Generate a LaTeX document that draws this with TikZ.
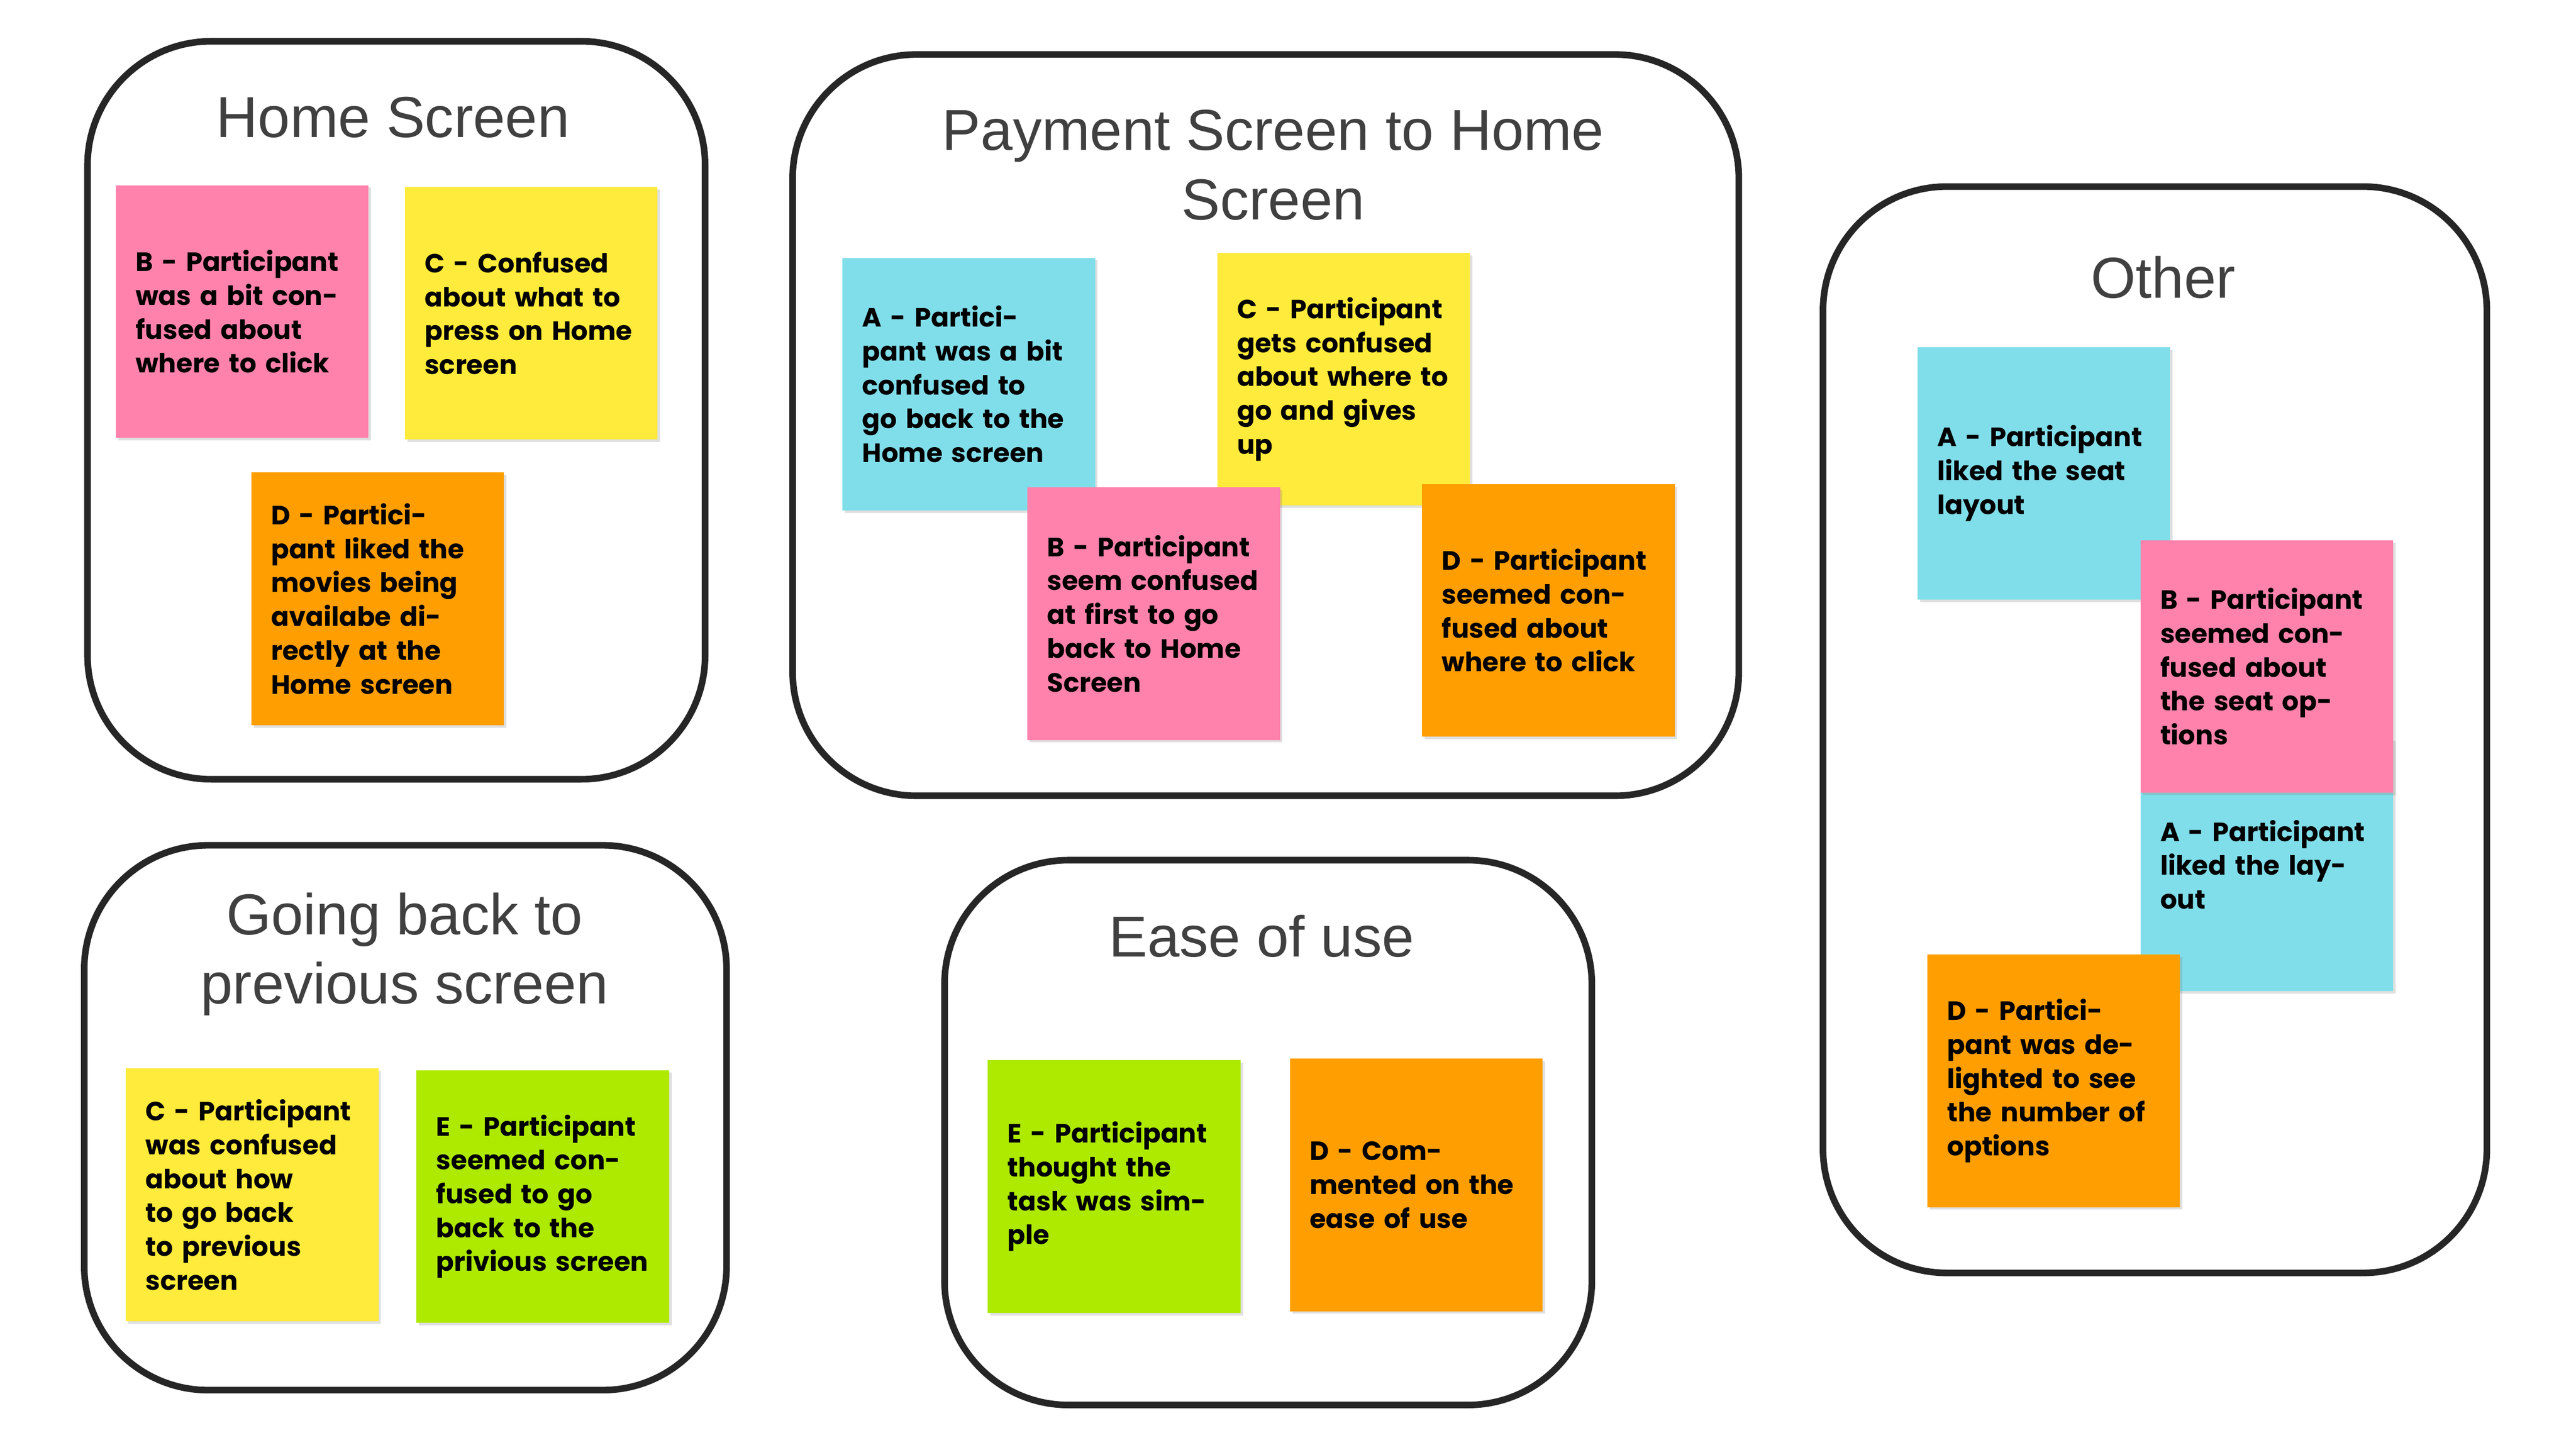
\documentclass[tikz,border=0pt]{standalone}
\usepackage{fontspec}
\setmainfont{Liberation Sans}
\newfontfamily\stickyfont{Poppins}
\definecolor{spink}{HTML}{FF82AC}
\definecolor{syellow}{HTML}{FFEB3B}
\definecolor{scyan}{HTML}{80DEEA}
\definecolor{sorange}{HTML}{FF9E00}
\definecolor{sgreen}{HTML}{AEEA00}
\definecolor{titlegray}{HTML}{404040}
\tikzset{
 group/.style={draw=black!85,line width=4pt,rounded corners=75pt},
 gtitle/.style={font=\fontsize{35}{42}\selectfont,text=titlegray,align=center},
 note/.style={minimum width=153pt,minimum height=153pt,inner sep=0pt,text width=129pt,align=left,
   font=\stickyfont\bfseries\fontsize{16}{20.5}\selectfont,anchor=north west,
   drop shadow={shadow xshift=1.5pt,shadow yshift=-1.5pt,opacity=0.25}},
}
\usetikzlibrary{shadows}
\begin{document}
\begin{tikzpicture}[x=1pt,y=-1pt]
\useasboundingbox (0,0) rectangle (1560,878);
% groups
\draw[group] (53,25) rectangle (427,472);
\node[gtitle] (t1) at (238,71) {Home Screen};
\draw[group] (480,33) rectangle (1053,482);
\node[gtitle] (t2) at (771,100) {Payment Screen to Home\\Screen};
\draw[group] (1104,113) rectangle (1506,771);
\node[gtitle] (t3) at (1310,168) {Other};
\draw[group] (51,512) rectangle (440,842);
\node[gtitle] (t4) at (245,578) {Going back to\\previous screen};
\draw[group] (572,521) rectangle (964,851);
\node[gtitle] (t5) at (764,567) {Ease of use};
% Home
\node[note,fill=spink] (h1) at (70,112) {B - Participant was a bit confused about where to click};
\node[note,fill=syellow] (h2) at (245,113) {C - Confused about what to press on Home screen};
\node[note,fill=sorange] (h3) at (152,286) {D - Participant liked the movies being availabe directly at the Home screen};
% Payment
\node[note,fill=scyan] (p1) at (510,156) {A - Participant was a bit confused to go back to the Home screen};
\node[note,fill=syellow] (p2) at (737,153) {C - Participant gets confused about where to go and gives up};
\node[note,fill=spink] (p3) at (622,295) {B - Participant seem confused at first to go back to Home Screen};
\node[note,fill=sorange] (p4) at (861,293) {D - Participant seemed confused about where to click};
% Other
\node[note,fill=scyan] (o1) at (1161,210) {A - Participant liked the seat layout};
\node[note,fill=scyan] (o2) at (1296,447) {A - Participant liked the layout};
\node[note,fill=spink] (o3) at (1296,327) {B - Participant seemed confused about the seat options};
\node[note,fill=sorange] (o4) at (1167,578) {D - Participant was delighted to see the number of options};
% Going back
\node[note,fill=syellow] (g1) at (76,647) {C - Participant was confused about how to go back to previous screen};
\node[note,fill=sgreen] (g2) at (252,648) {E - Participant seemed confused to go back to the privious screen};
% Ease
\node[note,fill=sgreen] (e1) at (598,642) {E - Participant thought the task was simple};
\node[note,fill=sorange] (e2) at (781,641) {D - Commented on the ease of use};
\end{tikzpicture}
\end{document}
